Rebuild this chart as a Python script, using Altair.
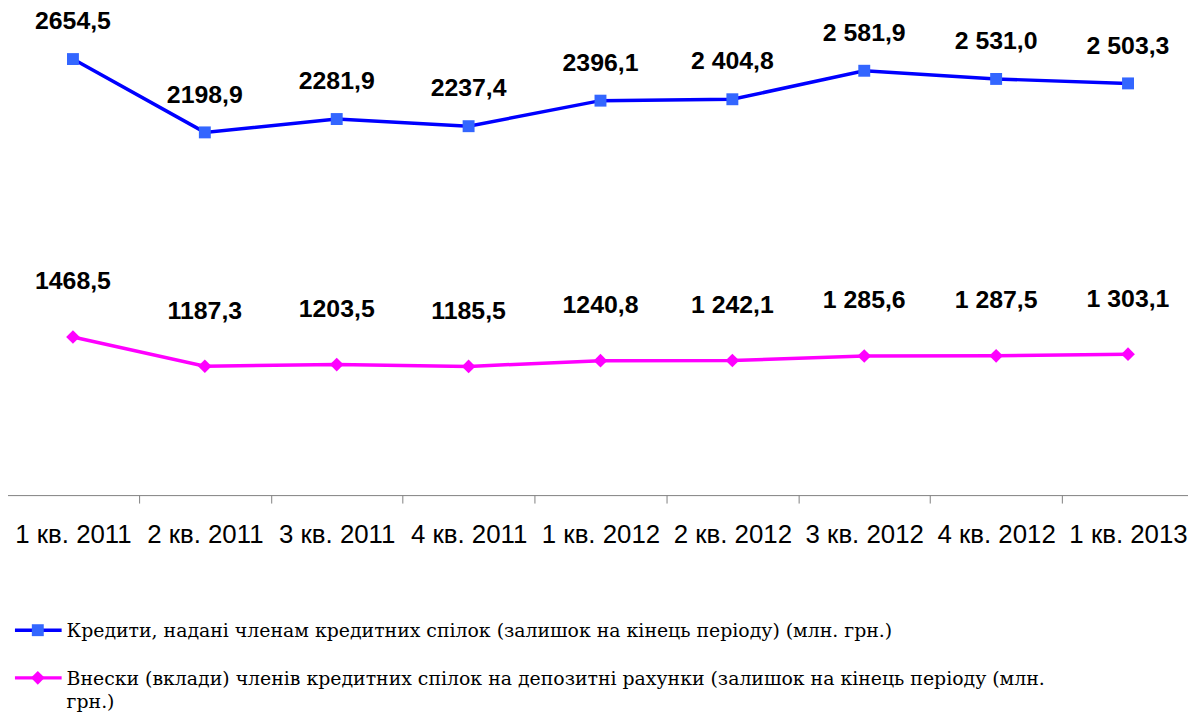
import altair as alt
import pandas as pd

quarters = ["1 кв. 2011", "2 кв. 2011", "3 кв. 2011", "4 кв. 2011", "1 кв. 2012",
            "2 кв. 2012", "3 кв. 2012", "4 кв. 2012", "1 кв. 2013"]
credits = [2654.5, 2198.9, 2281.9, 2237.4, 2396.1, 2404.8, 2581.9, 2531.0, 2503.3]
credit_labels = ["2654,5", "2198,9", "2281,9", "2237,4", "2396,1", "2 404,8", "2 581,9", "2 531,0", "2 503,3"]
deposits = [1468.5, 1187.3, 1203.5, 1185.5, 1240.8, 1242.1, 1285.6, 1287.5, 1303.1]
deposit_labels = ["1468,5", "1187,3", "1203,5", "1185,5", "1240,8", "1 242,1", "1 285,6", "1 287,5", "1 303,1"]
series_names = [
    "Кредити, надані членам кредитних спілок (залишок на кінець періоду) (млн. грн.)",
    "Внески (вклади) членів кредитних спілок на депозитні рахунки (залишок на кінець періоду (млн.\nгрн.)",
]

BLUE_LINE = "#0000FF"
BLUE_MARK = "#3366FF"
PINK = "#FF00FF"
SANS = "Liberation Sans, Arial, sans-serif"
SERIF = "DejaVu Serif"

df = pd.DataFrame({"q": quarters, "credits": credits, "cl": credit_labels,
                   "deposits": deposits, "dl": deposit_labels})

x_enc = alt.X(
    "q:N", sort=quarters,
    scale=alt.Scale(type="band", range=[-1, 1194], paddingInner=0, paddingOuter=0),
    axis=alt.Axis(title=None, labelAngle=0, tickBand="extent", tickSize=8,
                  domainColor="#808080", tickColor="#808080", labelFont=SANS,
                  labelFontSize=26, labelColor="#000000", labelBaseline="alphabetic",
                  labelPadding=40, grid=False),
)

y_blue = alt.Y("credits:Q", scale=alt.Scale(domain=[-55, 2957], nice=False, zero=False), axis=None)
y_pink = alt.Y("deposits:Q", scale=alt.Scale(domain=[-52, 4609], nice=False, zero=False), axis=None)

base = alt.Chart(df)

blue_line = base.mark_line(color=BLUE_LINE, strokeWidth=3.5).encode(x=x_enc, y=y_blue)
blue_pts = base.mark_point(shape="square", filled=True, color=BLUE_MARK, size=144, opacity=1).encode(x=x_enc, y=y_blue)
blue_txt = base.mark_text(font=SANS, fontSize=25, fontWeight="bold", color="#000000",
                          dy=-38, baseline="middle").encode(x=x_enc, y=y_blue, text="cl:N")

pink_line = base.mark_line(color=PINK, strokeWidth=3.5).encode(x=x_enc, y=y_pink)
pink_pts = base.mark_point(shape="diamond", filled=True, color=PINK, size=190, opacity=1).encode(x=x_enc, y=y_pink)
pink_txt = base.mark_text(font=SANS, fontSize=25, fontWeight="bold", color="#000000",
                          dy=-56, baseline="middle").encode(x=x_enc, y=y_pink, text="dl:N")

blue_layer = alt.layer(blue_line, blue_pts, blue_txt)
pink_layer = alt.layer(pink_line, pink_pts, pink_txt)

# legend
leg1 = alt.Chart(pd.DataFrame({"name": [series_names[0]]}))
leg2 = alt.Chart(pd.DataFrame({"name": [series_names[1]]}))

leg1_rule = leg1.mark_rule(color=BLUE_LINE, strokeWidth=3.5).encode(
    x=alt.value(7), x2=alt.value(54), y=alt.value(624))
leg1_pt = leg1.mark_point(shape="square", filled=True, color=BLUE_MARK, size=144, opacity=1).encode(
    x=alt.value(30), y=alt.value(624))
leg1_txt = leg1.mark_text(font=SERIF, fontSize=19, align="left", baseline="alphabetic",
                          color="#000000").encode(x=alt.value(59), y=alt.value(631), text="name:N")

leg2_rule = leg2.mark_rule(color=PINK, strokeWidth=3.5).encode(
    x=alt.value(7), x2=alt.value(54), y=alt.value(672))
leg2_pt = leg2.mark_point(shape="diamond", filled=True, color=PINK, size=190, opacity=1).encode(
    x=alt.value(30), y=alt.value(672))
leg2_txt = leg2.mark_text(font=SERIF, fontSize=19, align="left", baseline="alphabetic",
                          lineBreak="\n", lineHeight=23,
                          color="#000000").encode(x=alt.value(59), y=alt.value(679), text="name:N")

legend = alt.layer(leg1_rule, leg1_pt, leg1_txt, leg2_rule, leg2_pt, leg2_txt)

chart = alt.layer(blue_layer, pink_layer, legend).resolve_scale(y="independent").properties(
    width=1188, height=488,
    padding={"left": 0, "top": 0, "right": 0, "bottom": 222},
    autosize=alt.AutoSizeParams(type="none"),
).configure_view(stroke=None)

chart.save("out.html", embed_options={"renderer": "svg", "actions": False})
